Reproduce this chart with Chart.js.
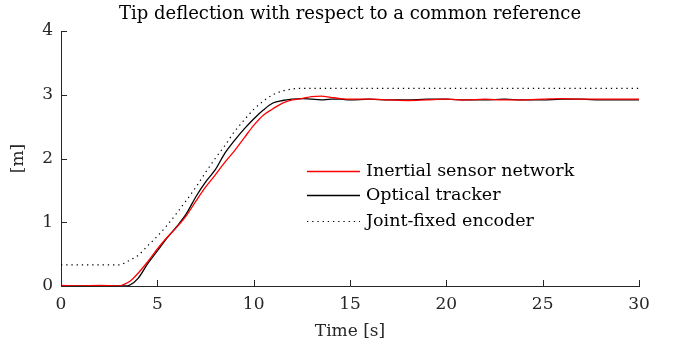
<!DOCTYPE html>
<html>
<head>
<meta charset="utf-8">
<script src="https://cdn.jsdelivr.net/npm/chart.js@4/dist/chart.umd.min.js"></script>
<style>
  html, body { margin: 0; padding: 0; background: #fff; }
  #wrap { width: 675px; height: 348px; }
</style>
</head>
<body>
<div id="wrap"><canvas id="graph"></canvas></div>
<script>
var time = [0, 1, 2, 3, 3.3, 3.6, 4, 4.5, 5, 5.5, 6, 6.5, 7, 7.5, 8, 8.5, 9, 9.5, 10, 10.5, 11, 11.5, 12, 12.5, 13, 13.5, 14, 14.5, 15, 16, 17, 18, 19, 20, 21, 22, 23, 24, 25, 26, 27, 28, 29, 30];
var inertial = [0.01, 0.0, 0.01, 0.0, 0.03, 0.08, 0.2, 0.38, 0.58, 0.76, 0.92, 1.1, 1.33, 1.55, 1.74, 1.94, 2.12, 2.32, 2.52, 2.68, 2.78, 2.87, 2.92, 2.94, 2.97, 2.98, 2.96, 2.94, 2.93, 2.93, 2.92, 2.91, 2.92, 2.93, 2.92, 2.93, 2.92, 2.92, 2.93, 2.94, 2.93, 2.93, 2.93, 2.93];
var optical = [0, 0, 0, 0, 0, 0.02, 0.12, 0.35, 0.55, 0.75, 0.93, 1.13, 1.4, 1.63, 1.82, 2.08, 2.28, 2.46, 2.62, 2.76, 2.87, 2.91, 2.93, 2.94, 2.93, 2.92, 2.93, 2.93, 2.92, 2.93, 2.92, 2.92, 2.93, 2.93, 2.92, 2.92, 2.93, 2.92, 2.92, 2.93, 2.93, 2.92, 2.92, 2.92];
var encoder = [0.33, 0.33, 0.33, 0.33, 0.36, 0.41, 0.48, 0.63, 0.78, 0.95, 1.14, 1.34, 1.55, 1.78, 2.0, 2.2, 2.42, 2.6, 2.77, 2.9, 3.0, 3.06, 3.09, 3.1, 3.1, 3.1, 3.1, 3.1, 3.1, 3.1, 3.1, 3.1, 3.1, 3.1, 3.1, 3.1, 3.1, 3.1, 3.1, 3.1, 3.1, 3.1, 3.1, 3.1];
var seriesNames = ['Inertial sensor network', 'Optical tracker', 'Joint-fixed encoder'];
var xTicks = [0, 5, 10, 15, 20, 25, 30];
var yTicks = [0, 1, 2, 3, 4];
var chartTitle = 'Tip deflection with respect to a common reference';

var FONT = 'DejaVu Serif';
var AXIS = '#262626';

function points(ys) {
  return time.map(function(t, i) { return {x: t, y: ys[i]}; });
}

// MATLAB style ticks pointing into the plot
var innerTicks = {
  id: 'innerTicks',
  afterDraw: function(chart) {
    var ctx = chart.ctx, a = chart.chartArea;
    var xs = chart.scales.x, ys = chart.scales.y;
    ctx.save();
    ctx.strokeStyle = AXIS;
    ctx.lineWidth = 1;
    ctx.beginPath();
    xTicks.forEach(function(v) {
      var p = Math.round(xs.getPixelForValue(v)) + 0.5;
      ctx.moveTo(p, a.bottom);
      ctx.lineTo(p, a.bottom - 6);
    });
    yTicks.forEach(function(v) {
      var p = Math.round(ys.getPixelForValue(v)) + 0.5;
      ctx.moveTo(a.left, p);
      ctx.lineTo(a.left + 6, p);
    });
    ctx.stroke();
    ctx.restore();
  }
};

// title centred over the axes, like MATLAB does
var axesTitle = {
  id: 'axesTitle',
  afterDraw: function(chart) {
    var ctx = chart.ctx, a = chart.chartArea;
    ctx.save();
    ctx.font = '18px "' + FONT + '"';
    ctx.fillStyle = '#000';
    ctx.textAlign = 'center';
    ctx.textBaseline = 'middle';
    ctx.fillText(chartTitle, (a.left + a.right) / 2, a.top - 17);
    ctx.restore();
  }
};

var innerLegend = {
  id: 'innerLegend',
  afterDatasetsDraw: function(chart) {
    var ctx = chart.ctx, a = chart.chartArea;
    var x0 = a.left + 246, x1 = a.left + 299, tx = a.left + 305;
    var rows = [a.top + 140, a.top + 164, a.top + 190];
    ctx.save();
    ctx.font = '17.5px "' + FONT + '"';
    ctx.textBaseline = 'middle';
    chart.data.datasets.forEach(function(ds, i) {
      ctx.beginPath();
      ctx.strokeStyle = ds.borderColor;
      ctx.lineWidth = ds.borderWidth;
      ctx.setLineDash(ds.borderDash || []);
      ctx.moveTo(x0, rows[i] + 0.5);
      ctx.lineTo(x1, rows[i] + 0.5);
      ctx.stroke();
      ctx.setLineDash([]);
      ctx.fillStyle = '#000';
      ctx.fillText(ds.label, tx, rows[i]);
    });
    ctx.restore();
  }
};

var context = document.querySelector('#graph').getContext('2d');
var chart = new Chart(context, {
  type: 'line',
  data: {
    datasets: [{
      label: seriesNames[0],
      data: points(inertial),
      borderColor: '#ff0000',
      borderWidth: 1.3,
      pointRadius: 0,
      cubicInterpolationMode: 'monotone',
      fill: false
    }, {
      label: seriesNames[1],
      data: points(optical),
      borderColor: '#000000',
      borderWidth: 1.3,
      pointRadius: 0,
      cubicInterpolationMode: 'monotone',
      fill: false
    }, {
      label: seriesNames[2],
      data: points(encoder),
      borderColor: '#000000',
      borderWidth: 1.2,
      borderDash: [1.3, 3.9],
      pointRadius: 0,
      cubicInterpolationMode: 'monotone',
      fill: false
    }]
  },
  options: {
    responsive: true,
    maintainAspectRatio: false,
    animation: false,
    layout: { padding: { left: 0, right: 36, top: 31, bottom: 0 } },
    plugins: {
      legend: { display: false },
      tooltip: { enabled: false },
      title: { display: false }
    },
    scales: {
      x: {
        type: 'linear',
        min: 0,
        max: 30,
        afterFit: function(scale) { scale.height = 62; },
        afterBuildTicks: function(scale) { scale.ticks = xTicks.map(function(v) { return {value: v}; }); },
        grid: { display: false, drawTicks: false },
        border: { display: true, color: AXIS, width: 1 },
        ticks: { color: '#262626', padding: 8, maxRotation: 0, font: { family: FONT, size: 17 } },
        title: {
          display: true,
          text: 'Time [s]',
          color: '#262626',
          font: { family: FONT, size: 17 },
          padding: { top: 0, bottom: 6 }
        }
      },
      y: {
        min: 0,
        max: 4,
        afterFit: function(scale) { scale.width = 61; },
        afterBuildTicks: function(scale) { scale.ticks = yTicks.map(function(v) { return {value: v}; }); },
        grid: { display: false, drawTicks: false },
        border: { display: true, color: AXIS, width: 1 },
        ticks: { color: '#262626', padding: 8, font: { family: FONT, size: 17 } },
        title: {
          display: true,
          text: '[m]',
          color: '#262626',
          font: { family: FONT, size: 17 },
          padding: { top: 8, bottom: 0 }
        }
      }
    }
  },
  plugins: [innerTicks, innerLegend, axesTitle]
});
</script>
</body>
</html>
